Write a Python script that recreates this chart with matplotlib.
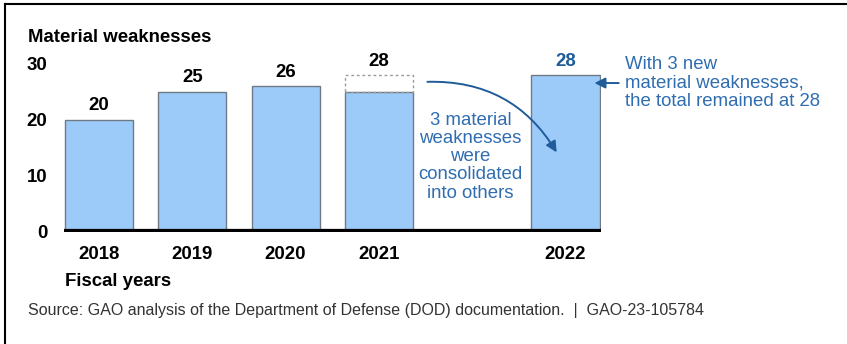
#!/usr/bin/python3
import numpy as np
import matplotlib
matplotlib.use("Agg")
from matplotlib import pyplot as plt
from matplotlib.lines import Line2D

# fiscal years and material weakness counts
years = ["2018", "2019", "2020", "2021", "2022"]
counts = [20, 25, 26, 25, 28]
reported_2021 = 28          # total reported before consolidation
labels = ["20", "25", "26", "28", "28"]
# 2022 sits apart from the others
slots = [0, 1, 2, 3, 5]

barColor = "#9ccbfa"
edgeColor = "#6f7a85"
noteColor = "#2f6db0"
darkBlue = "#1f5c99"
fs = 13.4

def main():
    plt.rcParams['font.family'] = ['Liberation Sans', 'DejaVu Sans']

    fig = plt.figure(figsize=(8.47, 3.44), dpi=100)
    ax = fig.add_axes([64 / 847, 1 - 232 / 344, 537 / 847, 168 / 344])

    barWidth = 0.73
    x = np.array(slots)

    ax.bar(x, counts, width=barWidth, color=barColor, edgecolor=edgeColor,
           linewidth=1.0, zorder=2)

    # dashed outline showing the 3 consolidated weaknesses in 2021
    ax.bar(x[3], reported_2021 - counts[3], bottom=counts[3], width=barWidth,
           fill=False, edgecolor="#9a9a9a", linestyle=(0, (2, 2)),
           linewidth=1.0, zorder=2)

    # value labels
    tops = list(counts)
    tops[3] = reported_2021
    for i in range(len(x)):
        col = darkBlue if i == 4 else "black"
        ax.text(x[i], tops[i] + 1.0, labels[i], ha='center', va='bottom',
                fontsize=fs, fontweight='bold', color=col)

    # thick baseline
    ax.axhline(0, color="black", linewidth=4.5, zorder=3)

    ax.set_xlim(-0.375, 5.38)
    ax.set_ylim(0, 30)
    ax.set_xticks(x)
    ax.set_xticklabels(years, fontsize=fs, fontweight='bold')
    ax.set_yticks([0, 10, 20, 30])
    ax.set_yticklabels(["0", "10", "20", "30"], fontsize=fs, fontweight='bold')
    ax.tick_params(axis='x', length=0, pad=10)
    ax.tick_params(axis='y', length=0, pad=12)
    for s in ax.spines.values():
        s.set_visible(False)

    # curved arrow from 2021 to 2022
    ax.annotate("", xy=(4.92, 13.8), xytext=(3.49, 26.8),
                arrowprops=dict(arrowstyle='-|>', color=darkBlue, lw=1.4,
                                mutation_scale=16,
                                connectionstyle="arc3,rad=-0.3"),
                annotation_clip=False)
    ax.text(3.98, 13.4, "3 material\nweaknesses\nwere\nconsolidated\ninto others",
            ha='center', va='center', fontsize=fs, color=noteColor,
            linespacing=1.08)

    # arrow pointing at 2022 bar
    ax.annotate("", xy=(5.28, 26.6), xytext=(5.6, 26.6),
                arrowprops=dict(arrowstyle='-|>', color=darkBlue, lw=1.4,
                                mutation_scale=16),
                annotation_clip=False)
    ax.text(5.64, 26.6, "With 3 new\nmaterial weaknesses,\nthe total remained at 28",
            ha='left', va='center', fontsize=fs, color=noteColor,
            linespacing=1.08)

    # titles and source
    fig.text(28 / 847, 1 - 37 / 344, "Material weaknesses", ha='left',
             va='center', fontsize=fs, fontweight='bold')
    fig.text(65 / 847, 1 - 282 / 344, "Fiscal years", ha='left',
             va='center', fontsize=fs, fontweight='bold')
    fig.text(28 / 847, 1 - 311 / 344,
             "Source: GAO analysis of the Department of Defense (DOD) documentation.  |  GAO-23-105784",
             ha='left', va='center', fontsize=11.5, color="#333333")

    # frame on top and left edges
    fig.add_artist(Line2D([5 / 847, 1.0], [1 - 4 / 344, 1 - 4 / 344],
                          color="black", linewidth=1.5))
    fig.add_artist(Line2D([5 / 847, 5 / 847], [0.0, 1 - 4 / 344],
                          color="black", linewidth=1.5))

    fig.savefig("out.png", dpi=100)

if __name__ == '__main__':
    main()
